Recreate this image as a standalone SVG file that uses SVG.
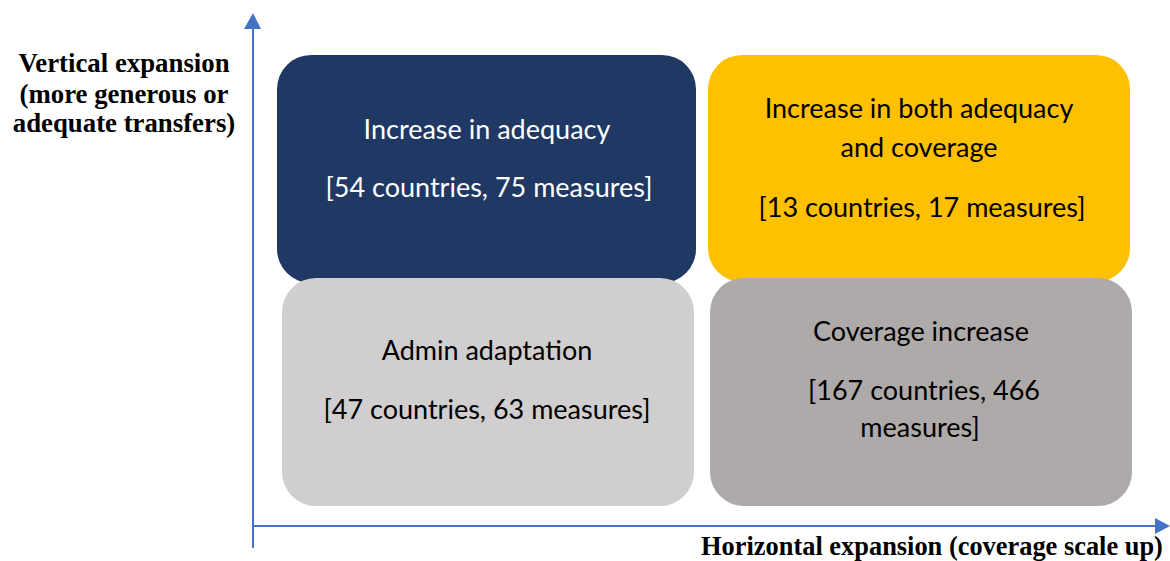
<svg xmlns="http://www.w3.org/2000/svg" width="1170" height="561" viewBox="0 0 1170 561">
<style>
.box-text{font-family:Lato,"Open Sans",sans-serif;font-size:27px;text-anchor:middle}
.axis-label{font-family:"Liberation Serif","Times New Roman",serif;font-weight:bold;font-size:26.8px;text-anchor:middle;fill:#000}
.axis{stroke:#4472C4;stroke-width:2;fill:none}
.head{fill:#4472C4}
</style>
<rect width="1170" height="561" fill="#ffffff"/>
<g id="connectors">
<line class="axis" x1="253" y1="548" x2="253" y2="28"/>
<path class="head" d="M244,29 L253,13 L261,29 z"/>
<line class="axis" x1="253" y1="526" x2="1156" y2="526"/>
<path class="head" d="M1155,518 L1170,526 L1155,534 z"/>
</g>
<g id="node-adequacy">
<rect x="277" y="55" width="419" height="228" rx="34" ry="34" fill="#203864"/>
<text class="box-text" x="487" y="139" fill="#ffffff">Increase in adequacy</text>
<text class="box-text" x="489" y="197" fill="#ffffff">[54 countries, 75 measures]</text>
</g>
<g id="node-both">
<rect x="708" y="55" width="422" height="227" rx="34" ry="34" fill="#FFC000"/>
<text class="box-text" x="919" y="118" fill="#000000">Increase in both adequacy</text>
<text class="box-text" x="919" y="157" fill="#000000">and coverage</text>
<text class="box-text" x="922" y="217" fill="#000000">[13 countries, 17 measures]</text>
</g>
<g id="node-admin">
<rect x="282" y="278" width="412" height="228" rx="34" ry="34" fill="#D0CECE"/>
<text class="box-text" x="487" y="360" fill="#000000">Admin adaptation</text>
<text class="box-text" x="487" y="419" fill="#000000">[47 countries, 63 measures]</text>
</g>
<g id="node-coverage">
<rect x="710" y="278" width="422" height="228" rx="34" ry="34" fill="#AEAAAA"/>
<text class="box-text" x="921" y="341" fill="#000000">Coverage increase</text>
<text class="box-text" x="924" y="400" fill="#000000">[167 countries, 466</text>
<text class="box-text" x="920" y="437" fill="#000000">measures]</text>
</g>
<g id="label-vertical">
<text class="axis-label" x="124" y="72">Vertical expansion</text>
<text class="axis-label" x="124" y="103">(more generous or</text>
<text class="axis-label" x="124" y="132">adequate transfers)</text>
</g>
<g id="label-horizontal">
<text class="axis-label" x="932" y="555" style="font-size:26.4px">Horizontal expansion (coverage scale up)</text>
</g>
</svg>
